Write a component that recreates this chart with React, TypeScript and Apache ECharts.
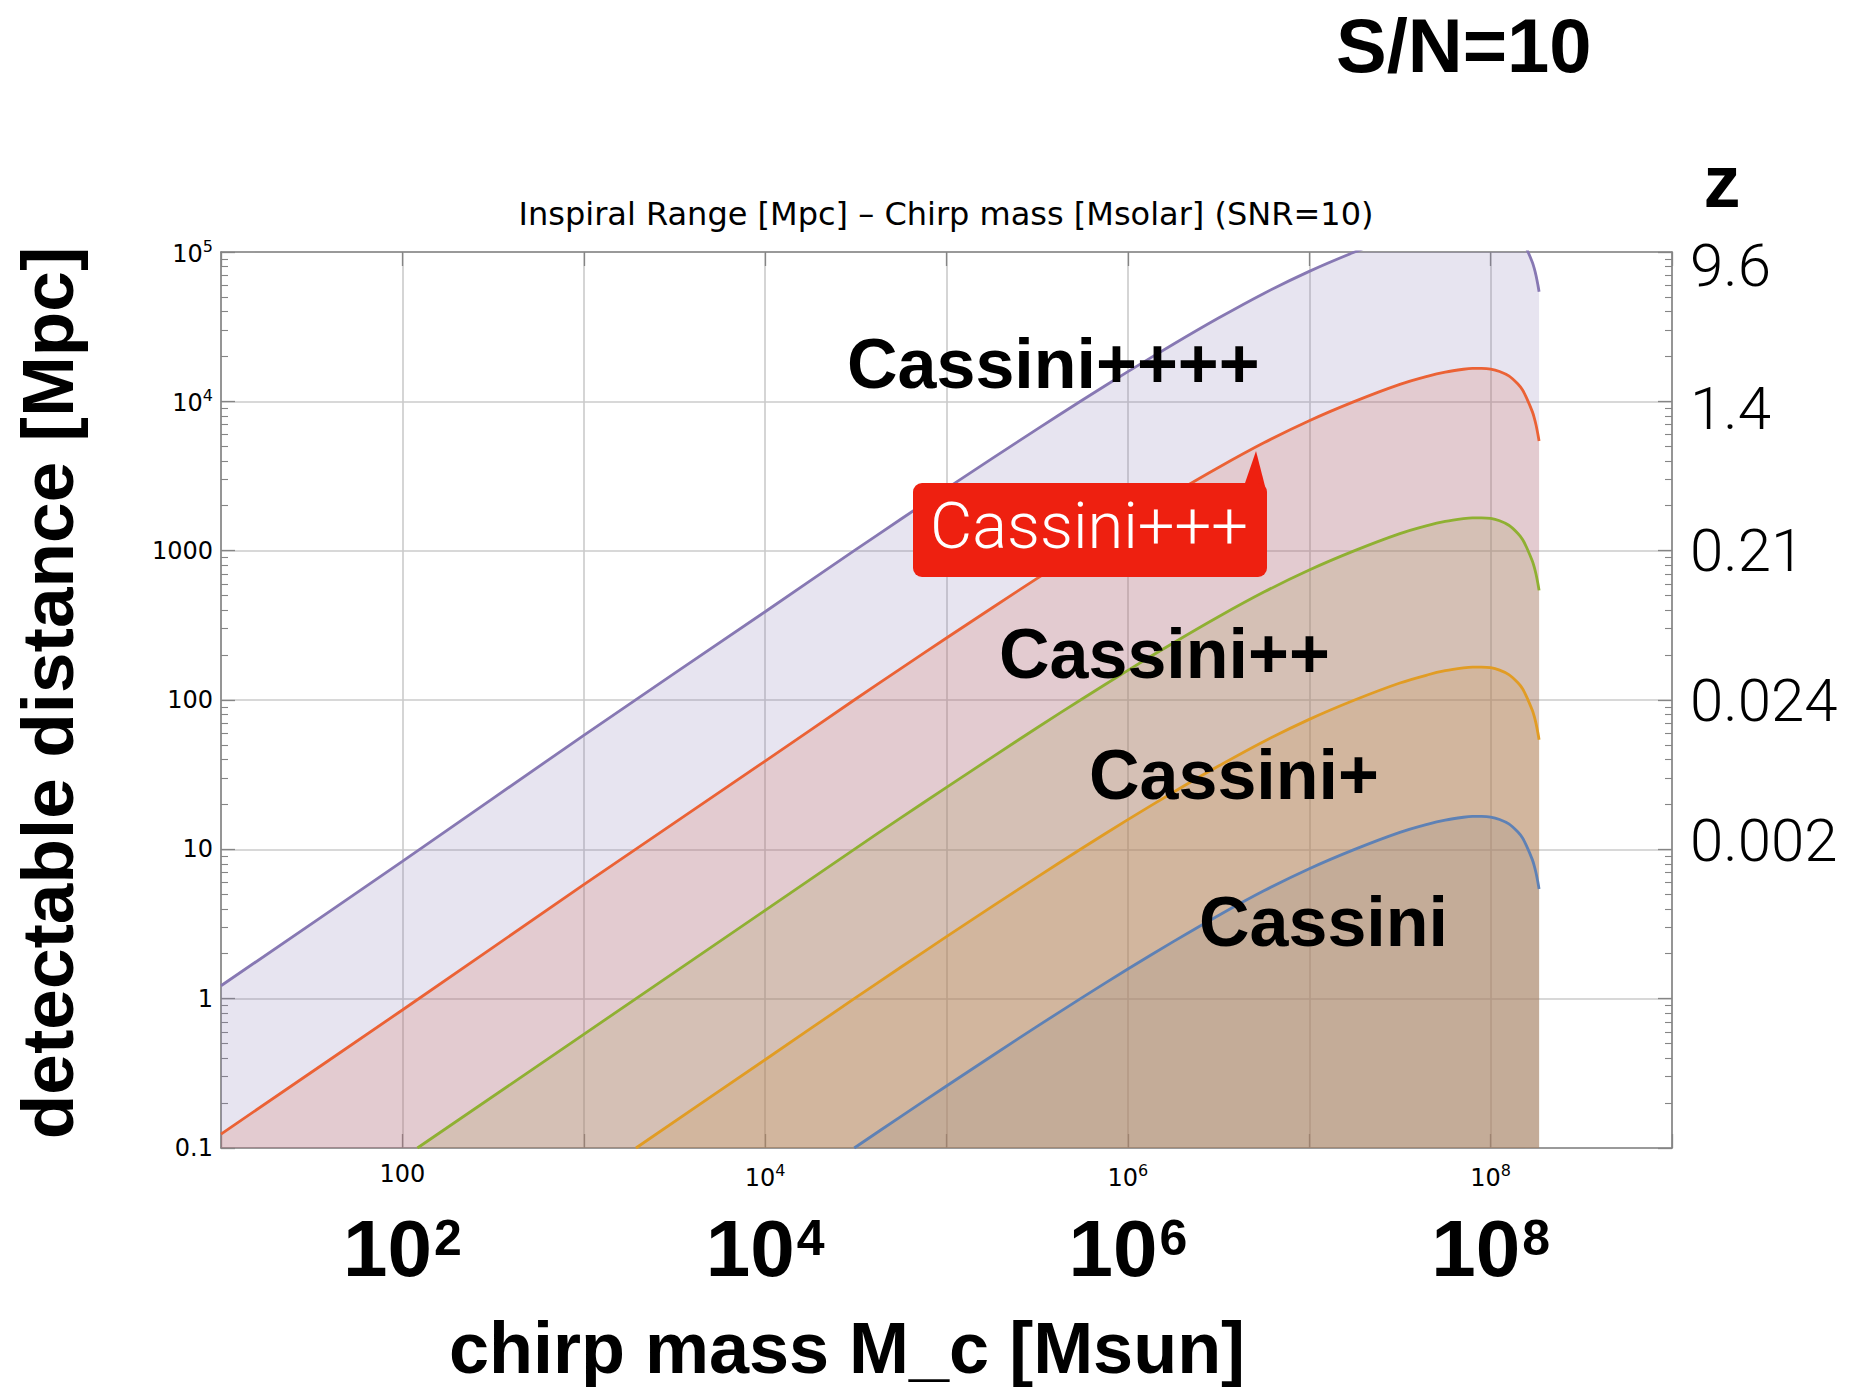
import React, { useEffect, useRef } from 'react';
import * as echarts from 'echarts';

// ---------------- data ----------------
const CHART_TITLE = 'Inspiral Range [Mpc] – Chirp mass [Msolar] (SNR=10)';
const X_TITLE = 'chirp mass M_c [Msun]';
const Y_TITLE = 'detectable distance [Mpc]';
const SNR_TEXT = 'S/N=10';
const Z_TITLE = 'z';

// drawing order (as in the source plot): Cassini first, Cassini++++ last
const SERIES_NAMES = ['Cassini', 'Cassini+', 'Cassini++', 'Cassini+++', 'Cassini++++'];
const SERIES_COLORS = ['#5E81B5', '#E19C24', '#8FB032', '#EB6235', '#8778B3'];

// chirp masses [Msun] at which the curves were read (upper part, shared)
const MASS_GRID = [3.1e4, 5.62e4, 1e5, 1.78e5, 3.16e5, 5.62e5, 1e6, 1.78e6, 3.16e6, 5.62e6, 1e7, 1.78e7, 3.16e7, 4.47e7, 5.62e7, 7.08e7, 7.94e7, 8.91e7, 1e8, 1.12e8, 1.26e8, 1.41e8, 1.5e8, 1.58e8, 1.7e8, 1.74e8, 1.78e8, 1.82e8, 1.85e8];
// extra low-mass read points where each curve enters the plot
const MASS_LOW_C: number[] = [];
const MASS_LOW_P = [1.94e3, 1e4];
const MASS_LOW_PP = [121, 1e3, 1e4];
const MASS_LOW_PPP = [10, 100, 1e3, 1e4];
const MASS_LOW_PPPP = [10, 100, 1e3, 1e4];

// detectable distance [Mpc]
const DIST_C = [0.1, 0.163, 0.26, 0.413, 0.652, 1.02, 1.58, 2.41, 3.61, 5.28, 7.42, 10.0, 13.0, 14.7, 15.7, 16.4, 16.6, 16.6, 16.45, 15.85, 14.8, 13.1, 11.9, 10.5, 8.5, 7.76, 6.95, 6.07, 5.42];
const DIST_P = [0.1, 0.39, 1.0, 1.63, 2.6, 4.13, 6.52, 10.2, 15.8, 24.1, 36.1, 52.8, 74.2, 100, 130, 147, 157, 164, 166, 166, 164.5, 158.5, 148, 131, 119, 105, 85, 77.6, 69.5, 60.7, 54.2];
const DIST_PP = [0.1, 0.577, 3.9, 10, 16.3, 26, 41.3, 65.2, 102, 158, 241, 361, 528, 742, 1000, 1300, 1470, 1570, 1640, 1660, 1660, 1645, 1585, 1480, 1310, 1190, 1050, 850, 776, 695, 607, 542];
const DIST_PPP = [0.124, 0.84, 5.8, 39, 100, 163, 260, 413, 652, 1020, 1580, 2410, 3610, 5280, 7420, 10000, 13000, 14700, 15700, 16400, 16600, 16600, 16450, 15850, 14800, 13100, 11900, 10500, 8500, 7760, 6950, 6070, 5420];
const DIST_PPPP = [1.22, 8.3, 58, 390, 1000, 1630, 2600, 4130, 6520, 10200, 15800, 24100, 36100, 52800, 74200, 100000, 130000, 147000, 157000, 164000, 166000, 166000, 164500, 158500, 148000, 131000, 119000, 105000, 85000, 77600, 69500, 60700, 54200];

const SERIES_MASSES = [
  [...MASS_LOW_C, ...MASS_GRID],
  [...MASS_LOW_P, ...MASS_GRID],
  [...MASS_LOW_PP, ...MASS_GRID],
  [...MASS_LOW_PPP, ...MASS_GRID],
  [...MASS_LOW_PPPP, ...MASS_GRID],
];
const SERIES_DISTS = [DIST_C, DIST_P, DIST_PP, DIST_PPP, DIST_PPPP];

// axis ranges / tick labels
const X_MIN = 10;
const X_MAX = 1e9;
const Y_MIN = 0.1;
const Y_MAX = 1e5;
const X_LABEL_EXPONENTS = [2, 4, 6, 8];
const Y_PLAIN_LABELS: Record<string, string> = { '-1': '0.1', '0': '1', '1': '10', '2': '100', '3': '1000' };
const Y_SUP_EXPONENTS = [4, 5];
const Z_LABELS: Record<string, string> = { '1': '0.002', '2': '0.024', '3': '0.21', '4': '1.4', '5': '9.6' };

// ---------------- styling ----------------
const FRAME = '#858585';
const GRID = '#cbcbcb';
const TICK_FONT = '"DejaVu Sans", "Liberation Sans", sans-serif';
const BOLD_FONT = '"Liberation Sans", Arial, Helvetica, sans-serif';
const LIGHT_FONT = 'Roboto, "Liberation Sans", sans-serif';
const CALLOUT_RED = '#EE2010';

const expOf = (v: number) => Math.round(Math.log10(v));

export default function App() {
  const ref = useRef<HTMLDivElement>(null);

  useEffect(() => {
    if (!ref.current) return;
    const chart = echarts.init(ref.current, undefined, { renderer: 'svg' });

    const smallRich = {
      n: { fontSize: 24, fontFamily: TICK_FONT, color: '#000', verticalAlign: 'bottom', lineHeight: 28 },
      e: { fontSize: 16, fontFamily: TICK_FONT, color: '#000', verticalAlign: 'top', lineHeight: 18 },
      p: { fontSize: 24, fontFamily: TICK_FONT, color: '#000' },
    };
    const bigRich = {
      a: { fontSize: 80, fontWeight: 'bold', fontFamily: BOLD_FONT, color: '#000', verticalAlign: 'top', lineHeight: 88 },
      s: { fontSize: 50, fontWeight: 'bold', fontFamily: BOLD_FONT, color: '#000', verticalAlign: 'top', lineHeight: 54, padding: [5, 0, 0, 2] },
    };
    const zBase = { fontSize: 60, fontFamily: LIGHT_FONT, fontWeight: 300, color: '#000' };
    const zRich = {
      z: { ...zBase },
      t: { ...zBase, padding: [26, 0, 0, 0] },
      d: { ...zBase, padding: [14, 0, 0, 0] },
      u: { ...zBase, padding: [0, 0, 18, 0] },
    };

    const logX = { type: 'log', logBase: 10, min: X_MIN, max: X_MAX, splitNumber: 8, gridIndex: 0 };
    const logY = { type: 'log', logBase: 10, min: Y_MIN, max: Y_MAX, splitNumber: 6, gridIndex: 0 };

    const dataOf = (i: number) => SERIES_MASSES[i].map((m, j) => [m, SERIES_DISTS[i][j]]);

    // translucent fills first (in source drawing order), then the curves on top
    const fillSeries = SERIES_NAMES.map((name, i) => ({
      name: name + ' fill',
      type: 'line',
      xAxisIndex: 0,
      yAxisIndex: 0,
      data: dataOf(i),
      showSymbol: false,
      symbol: 'none',
      smooth: 0.3,
      clip: true,
      lineStyle: { width: 0, opacity: 0 },
      areaStyle: { color: SERIES_COLORS[i], opacity: 0.2, origin: 'start' },
      emphasis: { disabled: true },
      silent: true,
      z: 2,
    }));
    const lineSeries = SERIES_NAMES.map((name, i) => ({
      name,
      type: 'line',
      xAxisIndex: 0,
      yAxisIndex: 0,
      data: dataOf(i),
      showSymbol: false,
      symbol: 'none',
      smooth: 0.3,
      clip: true,
      lineStyle: { color: SERIES_COLORS[i], width: 2.8 },
      itemStyle: { color: SERIES_COLORS[i] },
      emphasis: { disabled: true },
      silent: true,
      z: 3,
    }));

    const txt = (extra: any) => ({
      fill: '#000',
      align: extra.textAlign,
      verticalAlign: extra.textVerticalAlign,
      ...extra,
    });

    const option: any = {
      animation: false,
      backgroundColor: '#ffffff',
      grid: { left: 221, right: 180, top: 252, bottom: 239, containLabel: false, outerBoundsMode: 'none' },
      xAxis: [
        {
          ...logX,
          position: 'bottom',
          axisLine: { show: true, onZero: false, lineStyle: { color: FRAME, width: 1.6 } },
          axisTick: { show: true, inside: true, length: 14, lineStyle: { color: FRAME, width: 1.3 } },
          minorTick: { show: false },
          splitLine: { show: true, lineStyle: { color: GRID, width: 1.6 } },
          axisLabel: {
            show: true,
            margin: 14,
            color: '#000',
            fontSize: 24,
            fontFamily: TICK_FONT,
            rich: smallRich,
            formatter: (v: number) => {
              const e = expOf(v);
              if (!X_LABEL_EXPONENTS.includes(e)) return '';
              if (e === 2) return '{p|100}';
              return `{n|10}{e|${e}}`;
            },
          },
        },
        {
          ...logX,
          position: 'top',
          axisLine: { show: true, onZero: false, lineStyle: { color: FRAME, width: 1.6 } },
          axisTick: { show: true, inside: true, length: 14, lineStyle: { color: FRAME, width: 1.3 } },
          axisLabel: { show: false },
          splitLine: { show: false },
        },
        {
          ...logX,
          position: 'bottom',
          axisLine: { show: false, onZero: false },
          axisTick: { show: false },
          splitLine: { show: false },
          axisLabel: {
            show: true,
            margin: 60,
            rich: bigRich,
            formatter: (v: number) => {
              const e = expOf(v);
              if (!X_LABEL_EXPONENTS.includes(e)) return '';
              return `{a|10}{s|${e}}`;
            },
          },
        },
      ],
      yAxis: [
        {
          ...logY,
          position: 'left',
          axisLine: { show: true, onZero: false, lineStyle: { color: FRAME, width: 1.6 } },
          axisTick: { show: true, inside: true, length: 14, lineStyle: { color: FRAME, width: 1.3 } },
          minorTick: { show: true, splitNumber: 9, length: 7, lineStyle: { color: FRAME, width: 1.1 } },
          splitLine: { show: true, lineStyle: { color: GRID, width: 1.6 } },
          axisLabel: {
            show: true,
            margin: 8,
            color: '#000',
            fontSize: 24,
            fontFamily: TICK_FONT,
            rich: smallRich,
            formatter: (v: number) => {
              const e = expOf(v);
              if (Y_SUP_EXPONENTS.includes(e)) return `{n|10}{e|${e}}`;
              const s = Y_PLAIN_LABELS[String(e)];
              return s ? `{p|${s}}` : '';
            },
          },
        },
        {
          ...logY,
          position: 'right',
          axisLine: { show: true, onZero: false, lineStyle: { color: FRAME, width: 1.6 } },
          axisTick: { show: true, inside: true, length: 14, lineStyle: { color: FRAME, width: 1.3 } },
          minorTick: { show: true, splitNumber: 9, length: 7, lineStyle: { color: FRAME, width: 1.1 } },
          splitLine: { show: false },
          axisLabel: {
            show: true,
            margin: 18,
            color: '#000',
            fontSize: 60,
            fontFamily: LIGHT_FONT,
            rich: zRich,
            formatter: (v: number) => {
              const e = expOf(v);
              const s = Z_LABELS[String(e)];
              if (!s) return '';
              if (e === 5) return `{t|${s}}`;
              if (e === 4) return `{d|${s}}`;
              if (e === 1) return `{u|${s}}`;
              return `{z|${s}}`;
            },
          },
        },
      ],
      series: [...fillSeries, ...lineSeries],
      graphic: [
        {
          type: 'text', x: 946, y: 214, z: 100, silent: true,
          style: txt({ text: CHART_TITLE, fontSize: 32, fontFamily: TICK_FONT, textAlign: 'center', textVerticalAlign: 'middle' }),
        },
        {
          type: 'text', x: 1336, y: 45, z: 100, silent: true,
          style: txt({ text: SNR_TEXT, fontSize: 76, fontWeight: 'bold', fontFamily: BOLD_FONT, textAlign: 'left', textVerticalAlign: 'middle' }),
        },
        {
          type: 'text', x: 1722, y: 181, z: 100, silent: true,
          style: txt({ text: Z_TITLE, fontSize: 74, fontWeight: 'bold', fontFamily: BOLD_FONT, textAlign: 'center', textVerticalAlign: 'middle' }),
        },
        {
          type: 'text', x: 47, y: 693, rotation: Math.PI / 2, z: 100, silent: true,
          style: txt({ text: Y_TITLE, fontSize: 73, fontWeight: 'bold', fontFamily: BOLD_FONT, textAlign: 'center', textVerticalAlign: 'middle' }),
        },
        {
          type: 'text', x: 847, y: 1348, z: 100, silent: true,
          style: txt({ text: X_TITLE, fontSize: 72, fontWeight: 'bold', fontFamily: BOLD_FONT, textAlign: 'center', textVerticalAlign: 'middle' }),
        },
        {
          type: 'text', x: 847, y: 364, z: 100, silent: true,
          style: txt({ text: SERIES_NAMES[4], fontSize: 70, fontWeight: 'bold', fontFamily: BOLD_FONT, textAlign: 'left', textVerticalAlign: 'middle' }),
        },
        {
          type: 'text', x: 999, y: 654, z: 100, silent: true,
          style: txt({ text: SERIES_NAMES[2], fontSize: 70, fontWeight: 'bold', fontFamily: BOLD_FONT, textAlign: 'left', textVerticalAlign: 'middle' }),
        },
        {
          type: 'text', x: 1089, y: 775, z: 100, silent: true,
          style: txt({ text: SERIES_NAMES[1], fontSize: 70, fontWeight: 'bold', fontFamily: BOLD_FONT, textAlign: 'left', textVerticalAlign: 'middle' }),
        },
        {
          type: 'text', x: 1199, y: 922, z: 100, silent: true,
          style: txt({ text: SERIES_NAMES[0], fontSize: 70, fontWeight: 'bold', fontFamily: BOLD_FONT, textAlign: 'left', textVerticalAlign: 'middle' }),
        },
        {
          type: 'polygon', z: 100, silent: true,
          shape: { points: [[1244, 486], [1256, 451], [1266, 490]] },
          style: { fill: CALLOUT_RED },
        },
        {
          type: 'rect', z: 100, silent: true,
          shape: { x: 913, y: 483, width: 354, height: 94, r: 9 },
          style: { fill: CALLOUT_RED },
        },
        {
          type: 'text', x: 1089, y: 526, z: 101, silent: true,
          style: txt({ text: SERIES_NAMES[3], fill: '#ffffff', fontSize: 65, fontWeight: 300, fontFamily: LIGHT_FONT, textAlign: 'center', textVerticalAlign: 'middle' }),
        },
      ],
    };

    chart.setOption(option);
    return () => chart.dispose();
  }, []);

  return (
    <div
      ref={ref}
      style={{ position: 'fixed', left: 0, top: 0, width: 1852, height: 1387, background: '#fff' }}
    />
  );
}
